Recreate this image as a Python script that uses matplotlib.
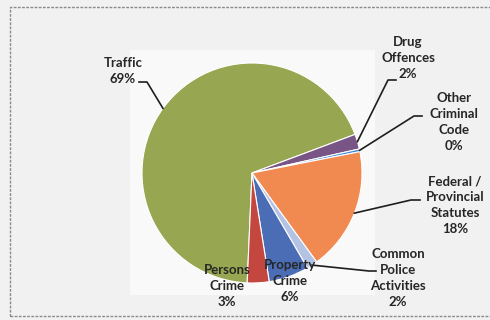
import numpy as np
import matplotlib
matplotlib.use("Agg")
import matplotlib.pyplot as plt
from matplotlib.patches import Rectangle

# share of occurrences by category
categories = ["Traffic", "Drug\nOffences", "Other\nCriminal\nCode",
              "Federal /\nProvincial\nStatutes", "Common\nPolice\nActivities",
              "Property\nCrime", "Persons\nCrime"]
shares = [68.6, 2.2, 0.4, 18.1, 1.6, 5.9, 3.2]
colors = ["#97a650", "#785585", "#3c8ad8", "#f08a50", "#b4c3e3", "#4a6db5", "#c4473f"]

# label block centres (pixels from top-left) and leader-line start points
label_pos = [(123, 71), (408, 58), (454, 122), (455, 205), (398, 278), (290, 281), (227, 286)]
leader_start = [(139, 82), (396, 80), (422, 116), (420, 200), (376, 271), None, None]
leader_elbow = [(147, 82), (388, 80), (414, 116), (411, 200), (369, 271), None, None]

W, H = 490, 320
fig = plt.figure(figsize=(4.9, 3.2), dpi=100)
fig.patch.set_facecolor("#f1f1f1")
ax = fig.add_axes([0, 0, 1, 1])
ax.set_xlim(0, W)
ax.set_ylim(0, H)
ax.set_aspect("equal")
ax.axis("off")

def px(x, y):
    return x, H - y

# dashed outer frame (runs off the right edge) and lighter plot area
ax.add_patch(Rectangle(px(10, 316), 500, 309, fill=False, ec="#8a8a8a",
                       lw=1.0, ls=(0, (2, 1)), clip_on=True))
ax.add_patch(Rectangle(px(130, 295), 245, 245, fc="#f9f9f9", ec="none"))

cx, cy = px(252, 173)
r = 110
wedges, _ = ax.pie(shares, colors=colors, startangle=-92.5, counterclock=False,
                   center=(cx, cy), radius=r, frame=True,
                   wedgeprops=dict(edgecolor="white", linewidth=0.8))
ax.set_xlim(0, W)
ax.set_ylim(0, H)
ax.axis("off")

for i, w in enumerate(wedges):
    text = categories[i] + "\n" + "{:.0f}%".format(shares[i])
    lx, ly = px(*label_pos[i])
    ax.text(lx, ly, text, ha="center", va="center", fontsize=9.5,
            fontweight="bold", family="Lato", color="#262626", linespacing=1.4)
    if leader_start[i] is not None:
        mid = np.deg2rad((w.theta1 + w.theta2) / 2)
        ex, ey = cx + r * np.cos(mid), cy + r * np.sin(mid)
        sx, sy = px(*leader_start[i])
        bx, by = px(*leader_elbow[i])
        ax.plot([sx, bx, ex], [sy, by, ey], color="#1e1e1e", lw=1.2)

fig.savefig("out.png", dpi=100, facecolor=fig.get_facecolor())
